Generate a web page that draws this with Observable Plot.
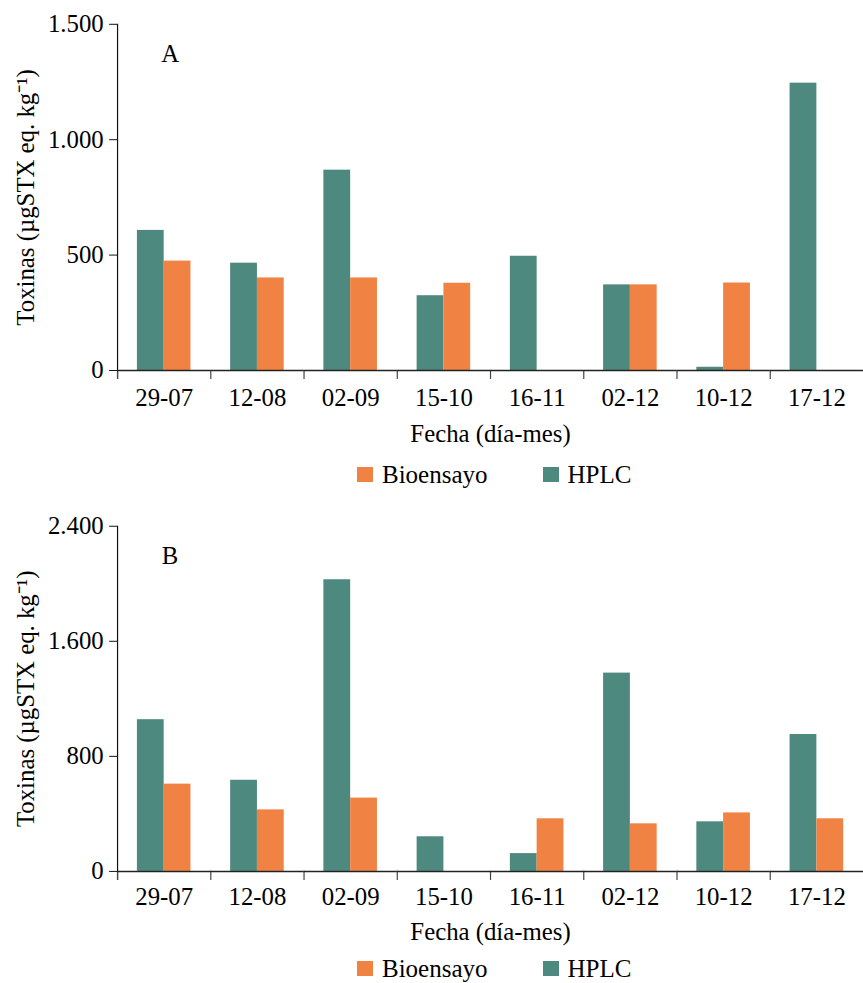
<!DOCTYPE html>
<html><head><meta charset="utf-8">
<script src="https://cdn.jsdelivr.net/npm/d3@7"></script>
<script src="https://cdn.jsdelivr.net/npm/@observablehq/plot@0.6"></script>
<style>
html,body{margin:0;padding:0;background:#fff;overflow:hidden;width:863px;height:983px;}
#root{position:relative;width:863px;height:983px;font-family:"Liberation Serif","Times New Roman",serif;color:#000;}
.panel{position:absolute;left:0;}
.legend{position:absolute;left:0;width:863px;display:flex;align-items:center;font-size:25px;line-height:1;padding-left:357px;box-sizing:border-box;}
.item{display:flex;align-items:center;}
.sw{display:inline-block;width:16px;height:15px;margin-right:9px;}
</style></head><body><div id="root"></div>
<script>
const fechas = ["29-07","12-08","02-09","15-10","16-11","02-12","10-12","17-12"];
const series = ["HPLC","Bioensayo"];
const hplcA = [607,465,868,324,495,371,14,1245];
const bioA  = [474,401,401,378,null,371,379,null];
const hplcB = [1055,634,2028,241,124,1379,345,952];
const bioB  = [607,428,510,null,366,331,407,366];
const ticksA = [0,500,1000,1500];
const ticksB = [0,800,1600,2400];
const colores = ["#4d897e","#f08244"]; // HPLC, Bioensayo
const tituloY = "Toxinas (µgSTX eq. kg⁻¹)";
const tituloX = "Fecha (día-mes)";
const leyenda = ["Bioensayo","HPLC"];

const fmt = d3.formatLocale({decimal:",", thousands:".", grouping:[3], currency:["","€"]}).format(",");

function panel(hplc, bio, ticks, letter, marginTop, plotH, marginBottom, tickPad, labelOff) {
  const data = fechas.flatMap((f, i) => [
    {fecha: f, serie: "HPLC", valor: hplc[i]},
    {fecha: f, serie: "Bioensayo", valor: bio[i]}
  ]);
  return Plot.plot({
    width: 870,
    height: marginTop + plotH + marginBottom,
    marginTop, marginBottom, marginLeft: 117, marginRight: 0,
    style: {fontFamily: "'Liberation Serif', 'Times New Roman', serif", fontSize: "25px", color: "#000", background: "#fff", overflow: "visible"},
    fx: {domain: fechas, padding: 0},
    x: {domain: series, paddingInner: 0, paddingOuter: 0.68, axis: null},
    y: {domain: [0, ticks[ticks.length - 1]]},
    color: {domain: series, range: colores},
    marks: [
      Plot.barY(data, {fx: "fecha", x: "serie", y: "valor", fill: "serie"}),
      Plot.frame({anchor: "left", facetAnchor: "left", stroke: "#111", strokeWidth: 1.2, insetBottom: -8}),
      Plot.frame({anchor: "left", stroke: "#444", strokeWidth: 1.2, insetTop: plotH, insetBottom: -8}),
      Plot.ruleY([0], {stroke: "#222", strokeWidth: 1.4}),
      Plot.axisY({ticks, tickFormat: fmt, tickSize: 8, tickPadding: 6, fontSize: 25, label: null, stroke: "#111"}),
      Plot.axisFx({anchor: "bottom", tickSize: 0, tickPadding: tickPad, fontSize: 25, label: tituloX, labelAnchor: "center", labelOffset: labelOff, labelArrow: "none"}),
      Plot.text([letter], {frameAnchor: "top-left", facetAnchor: "left", dx: 53, dy: 30, fontSize: 25, textAnchor: "middle", lineAnchor: "middle"}),
      Plot.text([tituloY], {frameAnchor: "left", facetAnchor: "left", rotate: -90, dx: -92, fontSize: 25, textAnchor: "middle", lineAnchor: "middle"})
    ]
  });
}

function legend(top, height) {
  const div = document.createElement("div");
  div.className = "legend";
  div.style.top = top + "px";
  div.style.height = height + "px";
  leyenda.forEach((name, k) => {
    const it = document.createElement("span");
    it.className = "item";
    if (k === 0) it.style.marginRight = "55px";
    const sw = document.createElement("span");
    sw.className = "sw";
    sw.style.background = colores[series.indexOf(name)];
    it.appendChild(sw);
    it.appendChild(document.createTextNode(name));
    div.appendChild(it);
  });
  return div;
}

const root = document.getElementById("root");
const a = document.createElement("div"); a.className = "panel"; a.style.top = "0px";
a.appendChild(panel(hplcA, bioA, ticksA, "A", 24, 349, 80, 18, 72));
root.appendChild(a);
root.appendChild(legend(455, 38));
const b = document.createElement("div"); b.className = "panel"; b.style.top = "495px";
b.appendChild(panel(hplcB, bioB, ticksB, "B", 31, 348, 72, 16, 69));
root.appendChild(b);
root.appendChild(legend(950, 36));
</script></body></html>
